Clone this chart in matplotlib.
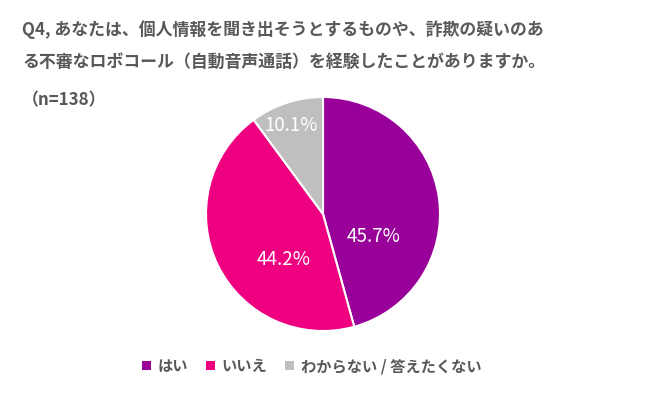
import matplotlib
matplotlib.use("Agg")
import matplotlib.pyplot as plt
from matplotlib.patches import Patch

plt.rcParams['font.family'] = ['Noto Sans CJK JP', 'DejaVu Sans']

categories = ["はい", "いいえ", "わからない / 答えたくない"]
values = [45.7, 44.2, 10.1]
colors = ["#990099", "#EE0080", "#BFBFBF"]
title_lines = ["Q4, あなたは、個人情報を聞き出そうとするものや、詐欺の疑いのあ",
               "る不審なロボコール（自動音声通話）を経験したことがありますか。",
               "（n=138）"]

W, H = 660, 393
fig = plt.figure(figsize=(6.6, 3.93), dpi=100)
cx, cy, r = 323, 214, 117
ax = fig.add_axes([(cx - r) / W, (H - cy - r) / H, 2 * r / W, 2 * r / H])
wedges, texts, autotexts = ax.pie(values, colors=colors, startangle=90, counterclock=False,
                                  autopct=lambda p: f"{p:.1f}%", pctdistance=0.6,
                                  wedgeprops=dict(edgecolor="white", linewidth=1.5),
                                  textprops=dict(color="white", fontsize=13.5))
# label positions (relative to radius) as placed in the reference
label_xy = [(0.43, -0.19), (-0.34, -0.39), (-0.27, 0.76)]
for t, (x, y) in zip(autotexts, label_xy):
    t.set_position((x, y))
    t.set_ha("center"); t.set_va("center")
ax.set_xlim(-1.0, 1.0); ax.set_ylim(-1.0, 1.0)
ax.set_aspect("equal")

tc = "#595959"
fig.text(22 / W, 1 - 30 / H, title_lines[0], fontsize=12.2, fontweight="bold", color=tc, va="center")
fig.text(22 / W, 1 - 62 / H, title_lines[1], fontsize=12.2, fontweight="bold", color=tc, va="center")
fig.text(22 / W, 1 - 100 / H, title_lines[2], fontsize=12.2, fontweight="bold", color=tc, va="center")

handles = [Patch(facecolor=c, edgecolor="none") for c in colors]
leg = fig.legend(handles, categories, loc="center", bbox_to_anchor=(0.472, 1 - 366 / H), ncol=3,
                 frameon=False, handlelength=0.6, handleheight=0.6, handletextpad=0.4,
                 columnspacing=1.2, prop=dict(size=11, weight="bold"))
for t in leg.get_texts():
    t.set_color(tc)

fig.savefig("out.png", dpi=100)
